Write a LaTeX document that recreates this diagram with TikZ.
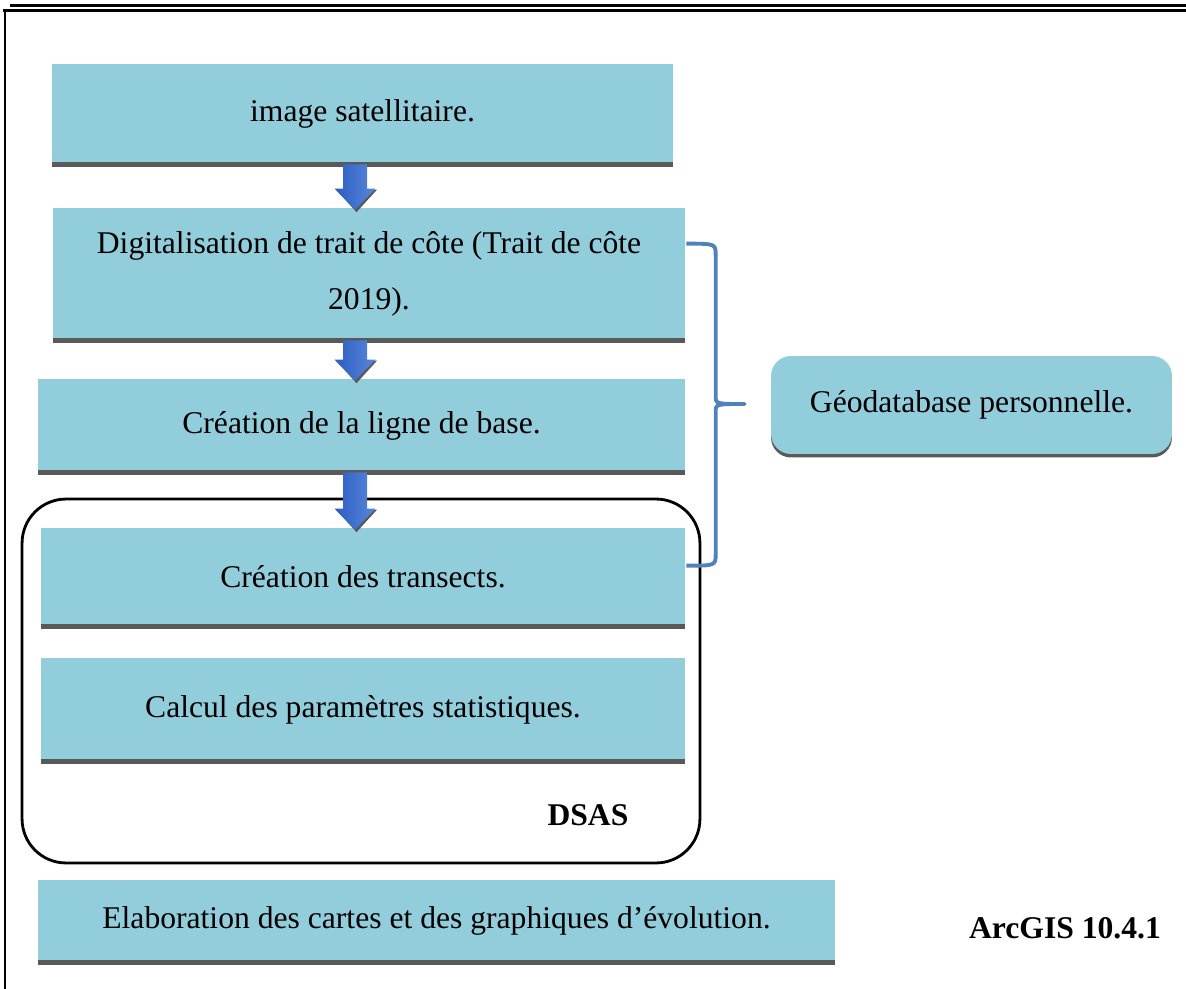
\documentclass[tikz,border=0pt]{standalone}
\usepackage{fontspec}
\setmainfont{Liberation Serif}
\usetikzlibrary{calc,shadows}
\definecolor{boxblue}{RGB}{146,205,220}
\definecolor{edgegray}{RGB}{89,89,89}
\definecolor{bracecol}{RGB}{79,129,189}
\definecolor{arrowleft}{RGB}{45,92,196}
\definecolor{arrowright}{RGB}{88,136,215}

% block arrow between two boxes, on the common axis
\newcommand{\flowarrow}[2]{%
  \coordinate (fa1) at (#1.south -| axis);
  \coordinate (fa2) at ($(#2.north -| axis)+(0,2)$);
  \fill[edgegray] ($(fa2)+(-19,-20)$) -- ($(fa2)+(1.5,2.5)$) -- ($(fa2)+(22,-20)$) -- cycle;
  \shade[left color=arrowleft,right color=arrowright]
    ($(fa1)+(-12,0)$) -- ($(fa2)+(-12,-21)$) -- ($(fa2)+(-20.5,-21)$) -- (fa2)
    -- ($(fa2)+(20.5,-21)$) -- ($(fa2)+(12,-21)$) -- ($(fa1)+(12,0)$) -- cycle;
}

\begin{document}
\begin{tikzpicture}[x=0.02cm,y=-0.02cm,
  stepbox/.style={rectangle,fill=boxblue,inner sep=0pt,align=center,
    font=\fontsize{18}{32}\selectfont},
  edge/.style={edgegray,line width=2.6pt},
  brace/.style={bracecol,line width=2.2pt,line join=round}
]
\useasboundingbox (0,0) rectangle (1186,989);

% page frame
\draw[line width=1.7pt] (10,6) -- (1186,6);
\draw[line width=1.7pt] (3,11) -- (1186,11);
\draw[line width=1.7pt] (5,11) -- (5,989);

% DSAS frame
\node[draw,line width=1.6pt,rounded corners=0.88cm,minimum width=13.56cm,
  minimum height=7.28cm] (dsas) at (361,681) {};
\node[font=\fontsize{18}{22}\selectfont\bfseries] (dsaslabel) at (588,815) {DSAS};

% steps
\node[stepbox,minimum width=12.42cm,minimum height=2.0cm] (img) at (362.5,114) {image satellitaire.};
\node[stepbox,minimum width=12.64cm,minimum height=2.64cm] (dig) at (369,274)
  {Digitalisation de trait de côte (Trait de côte\\2019).};
\node[stepbox,minimum width=12.94cm,minimum height=1.86cm] (base) at (361.5,425.5) {Création de la ligne de base.};
\node[stepbox,minimum width=12.88cm,minimum height=1.96cm] (trans) at (363,577) {Création des transects.};
\node[stepbox,minimum width=12.88cm,minimum height=2.06cm] (calc) at (363,709.5) {Calcul des paramètres statistiques.};
\node[stepbox,minimum width=15.94cm,minimum height=1.64cm] (carte) at (436.5,921)
  {Elaboration des cartes et des graphiques d’évolution.};
\foreach \n in {img,dig,base,trans,calc,carte}
  \draw[edge] (\n.south west) -- (\n.south east);

% database
\node[stepbox,rounded corners=0.4cm,minimum width=8.02cm,minimum height=1.96cm,
  drop shadow={shadow xshift=0pt,shadow yshift=-0.07cm,fill=edgegray,opacity=1}]
  (geo) at (971.5,405) {Géodatabase personnelle.};

\node[font=\fontsize{18}{22}\selectfont\bfseries] (arcgis) at (1065,928) {ArcGIS 10.4.1};

% arrows
\coordinate (axis) at (355,0);
\flowarrow{img}{dig}
\flowarrow{dig}{base}
\flowarrow{base}{trans}

% brace towards the database
\coordinate (brtop) at ($(dig.north east)+(1,36)$);
\coordinate (brbot) at ($(trans.north east)+(1,38)$);
\coordinate (brtip) at ($(geo.west)+(-26,-1)$);
\coordinate (spine) at ($(brtip)+(-29,0)$);
\draw[brace] (brtop) .. controls (brtop -| spine) .. ($(brtop -| spine)+(0,12)$)
  -- ($(spine)+(0,-8)$) .. controls (spine) .. (brtip)
  .. controls (spine) .. ($(spine)+(0,8)$)
  -- ($(brbot -| spine)+(0,-12)$) .. controls (brbot -| spine) .. (brbot);
\end{tikzpicture}
\end{document}
